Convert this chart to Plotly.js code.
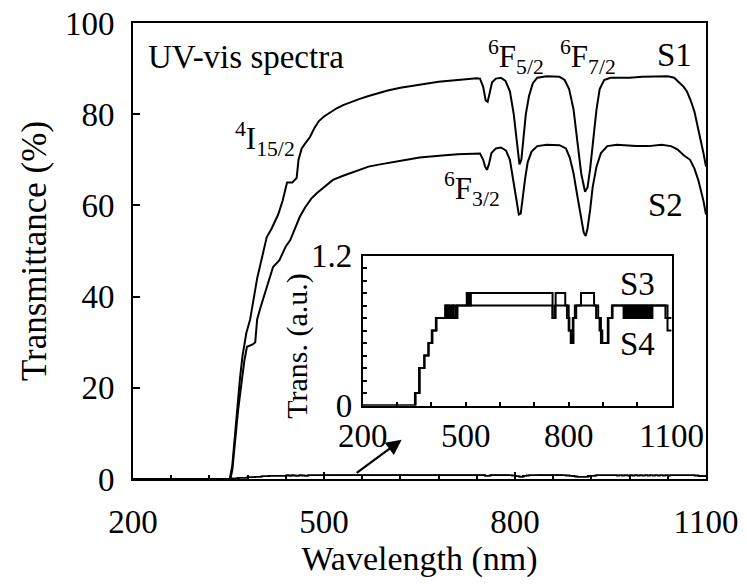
<!DOCTYPE html>
<html>
<head>
<meta charset="utf-8">
<script src="https://cdn.plot.ly/plotly-3.0.1.min.js"></script>
<style>
#chart text, #chart tspan { font-family: 'Liberation Serif', 'Times New Roman', serif !important; }
</style>
</head>
<body style="margin:0;padding:0;background:#fff;">
<div id="chart" style="width:747px;height:584px;"></div>
<script>
// ---- Data ----
// S1 (%)
const s1Wavelength = [200, 340, 352, 356, 360, 364, 368, 372, 378, 384, 390, 395, 400, 405, 410, 418, 428, 435, 442, 450, 457, 460, 465, 470, 478, 485, 492, 500, 510, 520, 530, 541, 555, 570, 588, 600, 620, 640, 660, 680, 700, 720, 740, 745, 750, 754, 757, 760, 764, 770, 778, 785, 792, 798, 803, 807, 810, 813, 817, 822, 828, 835, 850, 870, 878, 885, 892, 898, 904, 910, 914, 918, 923, 928, 933, 940, 950, 980, 1000, 1020, 1040, 1050, 1058, 1065, 1070, 1076, 1082, 1088, 1092, 1096, 1100];
const s1Trans = [0, 0, 0, 3, 10, 17, 22, 27, 32, 35, 40, 44, 47, 50, 53, 55, 58, 61, 65, 65, 66, 70, 72.5, 73.5, 75, 77, 78.5, 79.5, 80.5, 81.3, 82, 82.5, 83.3, 84, 84.8, 85.2, 85.8, 86.3, 86.7, 87.1, 87.4, 87.7, 87.9, 87.8, 86, 83, 82.7, 84.5, 87, 87.8, 88, 87.3, 85, 80, 73, 69, 70, 75, 80, 84, 86.8, 88, 88.3, 88.2, 87.5, 85.5, 81, 74, 67, 63, 64, 68, 75, 81, 85.5, 87.5, 88, 88, 88.2, 88.3, 88.3, 88, 87, 86, 85, 83, 80.5, 77, 74, 71.5, 68.5];
// S2 (%)
const s2Wavelength = [200, 353, 356, 360, 365, 371, 375, 379, 388, 392, 395, 400, 404, 410, 420, 430, 440, 447, 455, 462, 470, 480, 489, 500, 514, 530, 550, 570, 588, 610, 630, 650, 670, 690, 710, 730, 745, 750, 753, 756, 759, 763, 770, 778, 786, 792, 797, 802, 806, 809, 812, 816, 820, 826, 835, 850, 870, 880, 886, 892, 898, 904, 908, 911, 914, 918, 922, 928, 935, 945, 960, 990, 1010, 1030, 1045, 1055, 1065, 1075, 1082, 1088, 1092, 1096, 1100];
const s2Trans = [0, 0, 2, 8.6, 15, 21.7, 26, 29, 29.5, 30, 35, 37.5, 39.3, 42, 46.5, 48, 51, 52.4, 55, 57.5, 59.5, 61.5, 62.7, 64, 65.6, 66.5, 67.5, 68.5, 69, 69.6, 70, 70.5, 70.8, 71, 71.2, 71.4, 71.4, 70, 68.5, 67.8, 69, 71.5, 72.5, 72.7, 72, 70, 66, 62, 58, 58.2, 62, 66, 69.5, 71.8, 73, 73.3, 73.2, 72.5, 70.5, 67, 62, 57, 54, 53.3, 55, 59, 64, 68.5, 71.5, 73, 73.3, 73, 73, 73.3, 73, 72.3, 71, 70, 68, 65.5, 63.5, 61, 58];
// S3 (a.u., stepped)
const s3Wavelength = [200, 352, 364, 379, 391, 401, 413, 440, 444, 448, 452, 460, 465, 474, 503, 506, 509, 512, 515, 522, 753, 762, 790, 800, 806, 812, 818, 836, 874, 886, 894, 914, 926, 1082, 1100];
const s3Trans = [0, 0.1, 0.3, 0.4, 0.5, 0.6, 0.7, 0.8, 0.7, 0.8, 0.7, 0.8, 0.7, 0.8, 0.9, 0.8, 0.9, 0.8, 0.9, 0.9, 0.7, 0.9, 0.8, 0.6, 0.5, 0.7, 0.8, 0.9, 0.8, 0.7, 0.5, 0.7, 0.8, 0.7, 0.7];
// S4 (a.u., stepped)
const s4Wavelength = [200, 354, 366, 380, 392, 403, 415, 442, 446, 450, 456, 462, 470, 476, 753, 760, 795, 802, 808, 814, 822, 880, 890, 898, 916, 928, 960, 964, 968, 972, 976, 980, 984, 988, 992, 996, 1000, 1004, 1008, 1012, 1016, 1020, 1024, 1028, 1032, 1036, 1040, 1044, 1050, 1088, 1100];
const s4Trans = [0, 0.1, 0.3, 0.4, 0.5, 0.6, 0.7, 0.8, 0.7, 0.8, 0.7, 0.8, 0.7, 0.8, 0.7, 0.8, 0.7, 0.6, 0.5, 0.7, 0.8, 0.7, 0.6, 0.5, 0.7, 0.8, 0.7, 0.8, 0.7, 0.8, 0.7, 0.8, 0.7, 0.8, 0.7, 0.8, 0.7, 0.8, 0.7, 0.8, 0.7, 0.8, 0.7, 0.8, 0.7, 0.8, 0.7, 0.8, 0.8, 0.6, 0.6];

const mainXTicks = [200, 500, 800, 1100];
const mainYTicks = [0, 20, 40, 60, 80, 100];
const insetXTicks = [200, 500, 800, 1100];
const insetYTicks = [0, 1.2];

const serifFamily = 'Liberation Serif';
const black = '#000000';

const traces = [
  {x: s1Wavelength, y: s1Trans, xaxis: 'x', yaxis: 'y', mode: 'lines', line: {color: black, width: 2}, name: 'S1'},
  {x: s2Wavelength, y: s2Trans, xaxis: 'x', yaxis: 'y', mode: 'lines', line: {color: black, width: 2}, name: 'S2'},
  {x: s3Wavelength, y: s3Trans, xaxis: 'x', yaxis: 'y', mode: 'lines', line: {color: black, width: 1.5, shape: 'hv'}, name: 'S3'},
  {x: s4Wavelength, y: s4Trans, xaxis: 'x', yaxis: 'y', mode: 'lines', line: {color: black, width: 1.5, shape: 'hv'}, name: 'S4'},
  {x: s3Wavelength, y: s3Trans, xaxis: 'x2', yaxis: 'y2', mode: 'lines', line: {color: black, width: 2, shape: 'hv'}, name: 'S3 inset'},
  {x: s4Wavelength, y: s4Trans, xaxis: 'x2', yaxis: 'y2', mode: 'lines', line: {color: black, width: 2, shape: 'hv'}, name: 'S4 inset'}
];

function f(size) { return {family: serifFamily, size: size, color: black}; }

const layout = {
  width: 747, height: 584,
  margin: {l: 133, r: 41, t: 23, b: 105},
  paper_bgcolor: '#ffffff', plot_bgcolor: 'rgba(0,0,0,0)',
  showlegend: false,
  font: f(33),
  xaxis: {
    domain: [0, 1], range: [200, 1100], tickmode: 'array', tickvals: mainXTicks,
    ticks: 'inside', ticklen: 7, tickwidth: 2, tickcolor: black,
    minor: {tickmode: 'linear', tick0: 200, dtick: 60, ticks: 'inside', ticklen: 4, tickwidth: 1.5, tickcolor: black},
    showline: true, linewidth: 2, linecolor: black, mirror: true,
    showgrid: false, zeroline: false, tickfont: f(33), ticklabelstandoff: 12,
    title: {text: 'Wavelength (nm)', font: f(34), standoff: 8}
  },
  yaxis: {
    domain: [0, 1], range: [0, 100], tickmode: 'array', tickvals: mainYTicks,
    ticks: 'inside', ticklen: 7, tickwidth: 2, tickcolor: black,
    showline: true, linewidth: 2, linecolor: black, mirror: true,
    showgrid: false, zeroline: false, tickfont: f(33), ticklabelstandoff: 10,
    title: {text: 'Transmittance (%)', font: f(35), standoff: 8}
  },
  xaxis2: {
    domain: [0.401, 0.940], anchor: 'y2', range: [200, 1100], tickmode: 'array', tickvals: insetXTicks,
    ticks: 'inside', ticklen: 4, tickwidth: 1.5, tickcolor: black,
    minor: {tickmode: 'linear', tick0: 200, dtick: 100, ticks: 'inside', ticklen: 4, tickwidth: 1.5, tickcolor: black},
    showline: true, linewidth: 2, linecolor: black, mirror: true,
    showgrid: false, zeroline: false, tickfont: f(33), ticklabelstandoff: 0
  },
  yaxis2: {
    domain: [0.161, 0.490], anchor: 'x2', range: [0, 1.2], tickmode: 'array', tickvals: insetYTicks,
    ticktext: ['0', '1.2'],
    ticks: 'inside', ticklen: 4, tickwidth: 1.5, tickcolor: black,
    minor: {tickmode: 'linear', tick0: 0, dtick: 0.1, ticks: 'inside', ticklen: 4, tickwidth: 1.5, tickcolor: black},
    showline: true, linewidth: 2, linecolor: black, mirror: true,
    showgrid: false, zeroline: false, tickfont: f(33), ticklabelstandoff: 2
  },
  annotations: [
    {xref: 'x', yref: 'y', x: 220, y: 92.5, xanchor: 'left', yanchor: 'middle', text: 'UV-vis spectra', showarrow: false, font: f(33)},
    {xref: 'x', yref: 'y', x: 457, y: 74.5, xanchor: 'right', yanchor: 'middle', text: '<sup>4</sup>I<sub>15/2</sub>', showarrow: false, font: f(31)},
    {xref: 'x', yref: 'y', x: 801, y: 92.5, xanchor: 'center', yanchor: 'middle', text: '<sup>6</sup>F<sub>5/2</sub>', showarrow: false, font: f(31)},
    {xref: 'x', yref: 'y', x: 915, y: 92.5, xanchor: 'center', yanchor: 'middle', text: '<sup>6</sup>F<sub>7/2</sub>', showarrow: false, font: f(31)},
    {xref: 'x', yref: 'y', x: 1051, y: 93, xanchor: 'center', yanchor: 'middle', text: 'S1', showarrow: false, font: f(33)},
    {xref: 'x', yref: 'y', x: 732, y: 63.5, xanchor: 'center', yanchor: 'middle', text: '<sup>6</sup>F<sub>3/2</sub>', showarrow: false, font: f(31)},
    {xref: 'x', yref: 'y', x: 1037, y: 60, xanchor: 'center', yanchor: 'middle', text: 'S2', showarrow: false, font: f(33)},
    {xref: 'x2', yref: 'y2', x: 1002, y: 0.97, xanchor: 'center', yanchor: 'middle', text: 'S3', showarrow: false, font: f(33)},
    {xref: 'x2', yref: 'y2', x: 1002, y: 0.49, xanchor: 'center', yanchor: 'middle', text: 'S4', showarrow: false, font: f(33)},
    {xref: 'paper', yref: 'paper', x: 0.287, y: 0.293, xanchor: 'center', yanchor: 'middle', textangle: -90, text: 'Trans. (a.u.)', showarrow: false, font: f(30)},
    {xref: 'x', yref: 'y', x: 622, y: 8.6, axref: 'x', ayref: 'y', ax: 549, ay: 1.1, text: '', showarrow: true, arrowhead: 2, arrowsize: 1.4, arrowwidth: 2.2, arrowcolor: black}
  ]
};

Plotly.newPlot('chart', traces, layout, {displayModeBar: false});
</script>
</body>
</html>
